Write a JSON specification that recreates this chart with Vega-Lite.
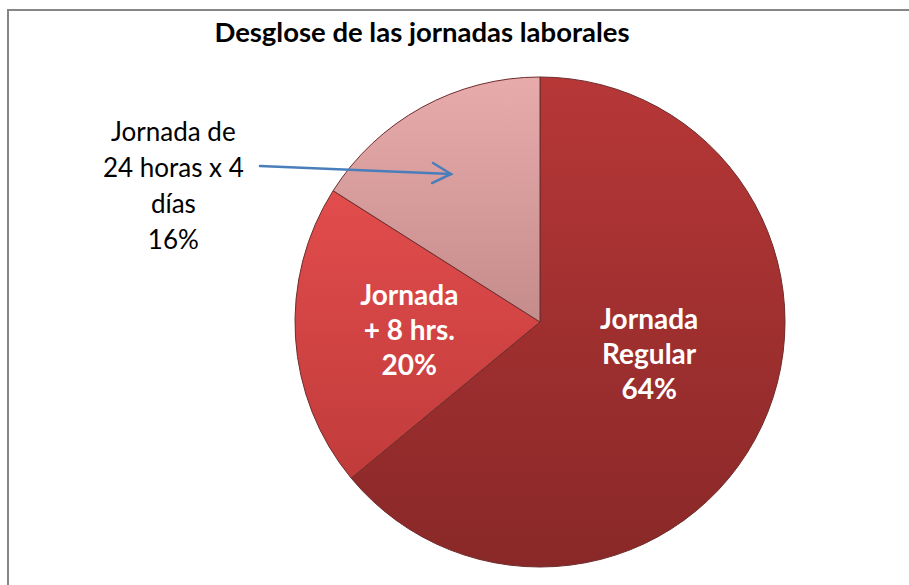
{
  "$schema": "https://vega.github.io/schema/vega-lite/v6.json",
  "width": 1064,
  "height": 624,
  "autosize": {"type": "none"},
  "padding": {"left": 8, "top": 10, "right": 0, "bottom": 0},
  "background": "white",
  "config": {
    "view": {"stroke": "#868686", "strokeWidth": 2},
    "font": "Lato"
  },
  "title": {
    "text": "Desglose de las jornadas laborales",
    "font": "Lato",
    "fontSize": 27.5,
    "fontWeight": "bold",
    "color": "#000000",
    "anchor": "middle",
    "dx": -118,
    "offset": -37
  },
  "datasets": {
    "jornadas": [
      {"categoria": "Jornada Regular", "porcentaje": 64, "orden": 1, "etiqueta": ["Jornada", "Regular", "64%"]},
      {"categoria": "Jornada + 8 hrs.", "porcentaje": 20, "orden": 2, "etiqueta": ["Jornada", "+ 8 hrs.", "20%"]},
      {"categoria": "Jornada de 24 horas x 4 días", "porcentaje": 16, "orden": 3, "etiqueta": ["Jornada de", "24 horas x 4", "días", "16%"]}
    ],
    "flecha": [
      {"grupo": "linea", "paso": 1, "px": -1.1429, "py": 0.6367},
      {"grupo": "linea", "paso": 2, "px": -0.3633, "py": 0.6041},
      {"grupo": "punta", "paso": 1, "px": -0.4367, "py": 0.6490},
      {"grupo": "punta", "paso": 2, "px": -0.3633, "py": 0.6041},
      {"grupo": "punta", "paso": 3, "px": -0.4408, "py": 0.5673}
    ]
  },
  "data": {"name": "jornadas"},
  "layer": [
    {
      "mark": {"type": "arc", "radius": 245, "stroke": "#6e2c2c", "strokeWidth": 1},
      "encoding": {
        "theta": {"field": "porcentaje", "type": "quantitative", "stack": true},
        "order": {"field": "orden", "type": "quantitative"},
        "fill": {
          "condition": [
            {"test": "datum.orden === 1", "value": {"gradient": "linear", "x1": 0, "y1": 0, "x2": 0, "y2": 1, "stops": [{"offset": 0, "color": "#b73737"}, {"offset": 1, "color": "#892828"}]}},
            {"test": "datum.orden === 2", "value": {"gradient": "linear", "x1": 0, "y1": 0, "x2": 0, "y2": 1, "stops": [{"offset": 0, "color": "#e24c4c"}, {"offset": 1, "color": "#c13b3b"}]}}
          ],
          "value": {"gradient": "linear", "x1": 0, "y1": 0, "x2": 0, "y2": 1, "stops": [{"offset": 0, "color": "#e8abab"}, {"offset": 1, "color": "#c58c8c"}]}
        }
      }
    },
    {
      "mark": {"type": "text", "font": "Lato", "fontSize": 28, "fontWeight": "bold", "color": "#ffffff", "align": "center", "baseline": "middle", "lineHeight": 35, "dx": 6, "dy": -50},
      "encoding": {
        "theta": {"field": "porcentaje", "type": "quantitative", "stack": true},
        "order": {"field": "orden", "type": "quantitative"},
        "radius": {"value": 114},
        "text": {"condition": {"test": "datum.orden === 1", "field": "etiqueta"}, "value": ""}
      }
    },
    {
      "mark": {"type": "text", "font": "Lato", "fontSize": 28, "fontWeight": "bold", "color": "#ffffff", "align": "center", "baseline": "middle", "lineHeight": 35, "dy": -33},
      "encoding": {
        "theta": {"field": "porcentaje", "type": "quantitative", "stack": true},
        "order": {"field": "orden", "type": "quantitative"},
        "radius": {"value": 131},
        "text": {"condition": {"test": "datum.orden === 2", "field": "etiqueta"}, "value": ""}
      }
    },
    {
      "mark": {"type": "text", "font": "Lato", "fontSize": 26, "fontWeight": "normal", "color": "#000000", "align": "center", "baseline": "middle", "lineHeight": 36, "dx": -225, "dy": 69},
      "encoding": {
        "theta": {"field": "porcentaje", "type": "quantitative", "stack": true},
        "order": {"field": "orden", "type": "quantitative"},
        "radius": {"value": 294},
        "text": {"condition": {"test": "datum.orden === 3", "field": "etiqueta"}, "value": ""}
      }
    },
    {
      "data": {"name": "flecha"},
      "mark": {"type": "line", "color": "#4a7ebb", "strokeWidth": 2.5, "strokeCap": "round", "strokeJoin": "miter"},
      "encoding": {
        "x": {"field": "px", "type": "quantitative", "scale": {"domain": [-2.1714, 2.1714], "nice": false, "zero": false}, "axis": null},
        "y": {"field": "py", "type": "quantitative", "scale": {"domain": [-1.2735, 1.2735], "nice": false, "zero": false}, "axis": null},
        "detail": {"field": "grupo", "type": "nominal"},
        "order": {"field": "paso", "type": "quantitative"}
      }
    }
  ]
}
